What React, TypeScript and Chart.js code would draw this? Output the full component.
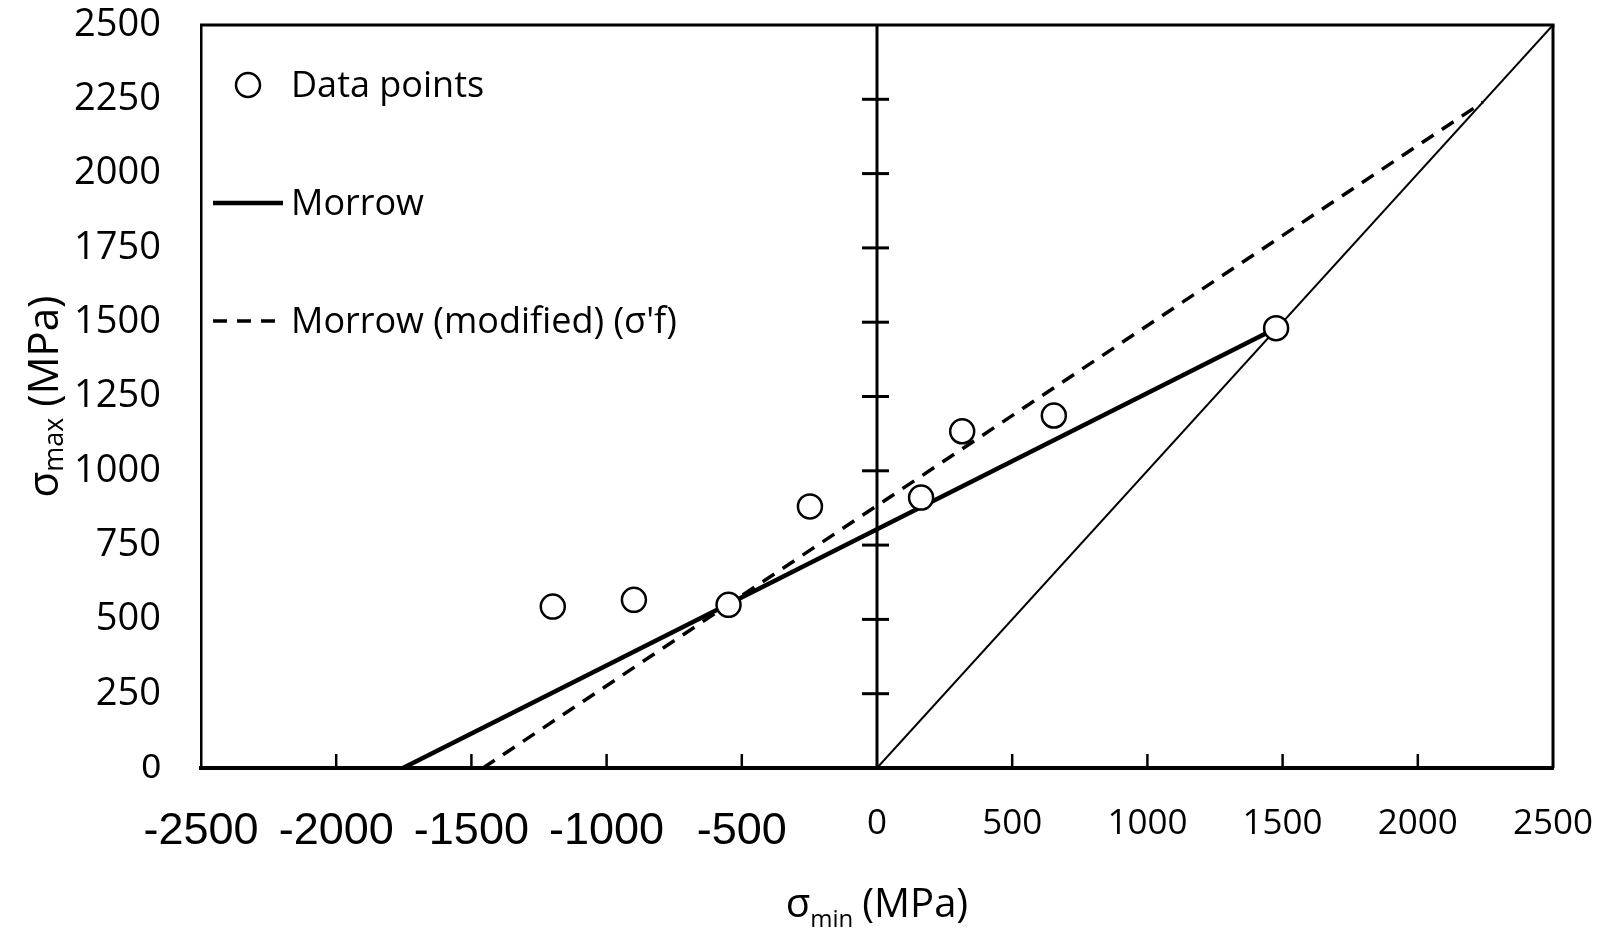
import React, { useEffect, useRef } from 'react';
import { Chart, registerables } from 'chart.js';

Chart.register(...registerables);

// ---- data ----
const pointsX = [-1199, -899, -549, -248, 163, 315, 654, 1476];
const pointsY = [543, 566, 549, 880, 910, 1133, 1186, 1480];
const morrowX = [-1753, 1476];
const morrowY = [0, 1480];
const modifiedX = [-1457, 2240];
const modifiedY = [0, 2240];
const diagonalX = [0, 2500];
const diagonalY = [0, 2500];
const seriesLabels = ['Data points', 'Morrow', "Morrow (modified) (σ'f)"];
const xRange = [-2500, 2500];
const yRange = [0, 2500];
const xStep = 500;
const yStep = 250;
const xTitleParts = ['σ', 'min', '(MPa)'];
const yTitleParts = ['σ', 'max', ' (MPa)'];

const SANS = '"Open Sans", "Noto Sans", sans-serif';
const ARIAL = '"Liberation Sans", Arial, sans-serif';

const toXY = (xs: number[], ys: number[]) => xs.map((x, i) => ({ x, y: ys[i] }));

function line(ctx: CanvasRenderingContext2D, x1: number, y1: number, x2: number, y2: number) {
  ctx.beginPath();
  ctx.moveTo(x1, y1);
  ctx.lineTo(x2, y2);
  ctx.stroke();
}

const framePlugin = {
  id: 'frame',
  beforeDatasetsDraw(chart: any) {
    const { ctx, chartArea: a, scales } = chart;
    const xs = scales.x;
    const ys = scales.y;
    ctx.save();
    ctx.strokeStyle = '#000';
    ctx.lineWidth = 3;
    line(ctx, a.left - 1, a.top, a.right + 1.5, a.top);
    line(ctx, a.right, a.top, a.right, a.bottom);
    const x0 = xs.getPixelForValue(0);
    line(ctx, x0, a.top, x0, a.bottom);
    ys.ticks.forEach((t: any) => {
      if (t.value > ys.min && t.value < ys.max) {
        const py = ys.getPixelForValue(t.value);
        line(ctx, x0 - 15, py, x0 + 12, py);
      }
    });
    ctx.lineWidth = 2.5;
    xs.ticks.forEach((t: any) => {
      if (t.value !== 0 && t.value > xs.min && t.value < xs.max) {
        const px = xs.getPixelForValue(t.value);
        line(ctx, px, a.bottom, px, a.bottom - 14);
      }
    });
    ctx.restore();
  },
};

const textPlugin = {
  id: 'texts',
  afterDraw(chart: any) {
    const { ctx, chartArea: a, data } = chart;
    ctx.save();
    ctx.fillStyle = '#000';
    ctx.textBaseline = 'alphabetic';
    ctx.textAlign = 'left';

    // legend
    const legendX = a.left + 47;
    const textX = a.left + 90;
    const baselines = [a.top + 72, a.top + 190, a.top + 308];
    data.datasets.forEach((ds: any, i: number) => {
      if (i > 2) return;
      const by = baselines[i];
      const cy = by - 12;
      ctx.save();
      ctx.strokeStyle = ds.borderColor;
      if (i === 0) {
        ctx.lineWidth = ds.pointBorderWidth;
        ctx.fillStyle = ds.pointBackgroundColor;
        ctx.beginPath();
        ctx.arc(legendX, cy, ds.pointRadius, 0, Math.PI * 2);
        ctx.fill();
        ctx.stroke();
      } else {
        ctx.lineWidth = ds.borderWidth;
        ctx.setLineDash(ds.borderDash || []);
        line(ctx, legendX - 35, cy, legendX + 35, cy);
      }
      ctx.restore();
      ctx.font = `36px ${SANS}`;
      ctx.fillText(ds.label, textX, by);
    });

    // x title
    {
      const mainF = `40px ${SANS}`;
      const subF = `24px ${SANS}`;
      ctx.font = mainF;
      const w0 = ctx.measureText(xTitleParts[0]).width;
      const w2 = ctx.measureText(xTitleParts[2]).width;
      ctx.font = subF;
      const w1 = ctx.measureText(xTitleParts[1]).width;
      const gap = 9;
      const total = w0 + w1 + gap + w2;
      const cx = (a.left + a.right) / 2;
      const by = a.bottom + 149;
      let x = cx - total / 2;
      ctx.font = mainF;
      ctx.fillText(xTitleParts[0], x, by);
      x += w0;
      ctx.font = subF;
      ctx.fillText(xTitleParts[1], x, by + 10);
      x += w1 + gap;
      ctx.font = mainF;
      ctx.fillText(xTitleParts[2], x, by);
    }

    // y title
    {
      const mainF = `42px ${SANS}`;
      const subF = `27px ${SANS}`;
      ctx.font = mainF;
      const w0 = ctx.measureText(yTitleParts[0]).width;
      const w2 = ctx.measureText(yTitleParts[2]).width;
      ctx.font = subF;
      const w1 = ctx.measureText(yTitleParts[1]).width;
      const total = w0 + w1 + w2;
      ctx.translate(58, (a.top + a.bottom) / 2);
      ctx.rotate(-Math.PI / 2);
      let x = -total / 2;
      ctx.font = mainF;
      ctx.fillText(yTitleParts[0], x, 0);
      x += w0;
      ctx.font = subF;
      ctx.fillText(yTitleParts[1], x, 5);
      x += w1;
      ctx.font = mainF;
      ctx.fillText(yTitleParts[2], x, 0);
    }
    ctx.restore();
  },
};

export default function App() {
  const ref = useRef<HTMLCanvasElement | null>(null);

  useEffect(() => {
    if (!ref.current) return;
    const chart = new Chart(ref.current, {
      type: 'scatter',
      data: {
        datasets: [
          {
            label: seriesLabels[0],
            data: toXY(pointsX, pointsY),
            showLine: false,
            pointRadius: 12,
            pointHoverRadius: 12,
            pointBorderWidth: 2.5,
            pointBackgroundColor: '#fff',
            pointBorderColor: '#000',
            borderColor: '#000',
            backgroundColor: '#fff',
          },
          {
            label: seriesLabels[1],
            data: toXY(morrowX, morrowY),
            showLine: true,
            borderColor: '#000',
            borderWidth: 4.5,
            pointRadius: 0,
            fill: false,
          },
          {
            label: seriesLabels[2],
            data: toXY(modifiedX, modifiedY),
            showLine: true,
            borderColor: '#000',
            borderWidth: 3.5,
            borderDash: [14, 10],
            pointRadius: 0,
            fill: false,
          },
          {
            label: 'y = x',
            data: toXY(diagonalX, diagonalY),
            showLine: true,
            borderColor: '#000',
            borderWidth: 2,
            pointRadius: 0,
            fill: false,
          },
        ],
      },
      options: {
        responsive: false,
        animation: false,
        events: [],
        layout: { padding: { left: 0, right: 57, top: 25, bottom: 0 } },
        plugins: {
          legend: { display: false },
          tooltip: { enabled: false },
        },
        scales: {
          x: {
            type: 'linear',
            min: xRange[0],
            max: xRange[1],
            grid: { display: false, drawTicks: false },
            border: { display: true, color: '#000', width: 4 },
            ticks: {
              stepSize: xStep,
              autoSkip: false,
              maxRotation: 0,
              padding: 30,
              color: '#000',
              callback: (v: any) => String(v),
              font: (c: any) =>
                c.tick && c.tick.value < 0
                  ? { family: ARIAL, size: 45, lineHeight: '67px' }
                  : { family: SANS, size: 35, lineHeight: '53px' },
            },
            afterFit: (s: any) => {
              s.height = 165;
              s.paddingLeft = 0;
              s.paddingRight = 0;
            },
          },
          y: {
            type: 'linear',
            min: yRange[0],
            max: yRange[1],
            grid: { display: false, drawTicks: false },
            border: { display: true, color: '#000', width: 2.5 },
            ticks: {
              stepSize: yStep,
              autoSkip: false,
              padding: 40,
              color: '#000',
              callback: (v: any) => String(v),
              font: (c: any) =>
                c.tick && c.tick.value === 0
                  ? { family: ARIAL, size: 35 }
                  : { family: SANS, size: 38 },
            },
            afterFit: (s: any) => {
              s.width = 201;
              s.paddingTop = 0;
              s.paddingBottom = 0;
            },
          },
        },
      },
      plugins: [framePlugin, textPlugin],
    } as any);
    return () => chart.destroy();
  }, []);

  return (
    <div style={{ position: 'fixed', left: 0, top: 0, width: 1610, height: 933, background: '#fff' }}>
      <canvas ref={ref} width={1610} height={933} style={{ display: 'block' }} />
    </div>
  );
}
